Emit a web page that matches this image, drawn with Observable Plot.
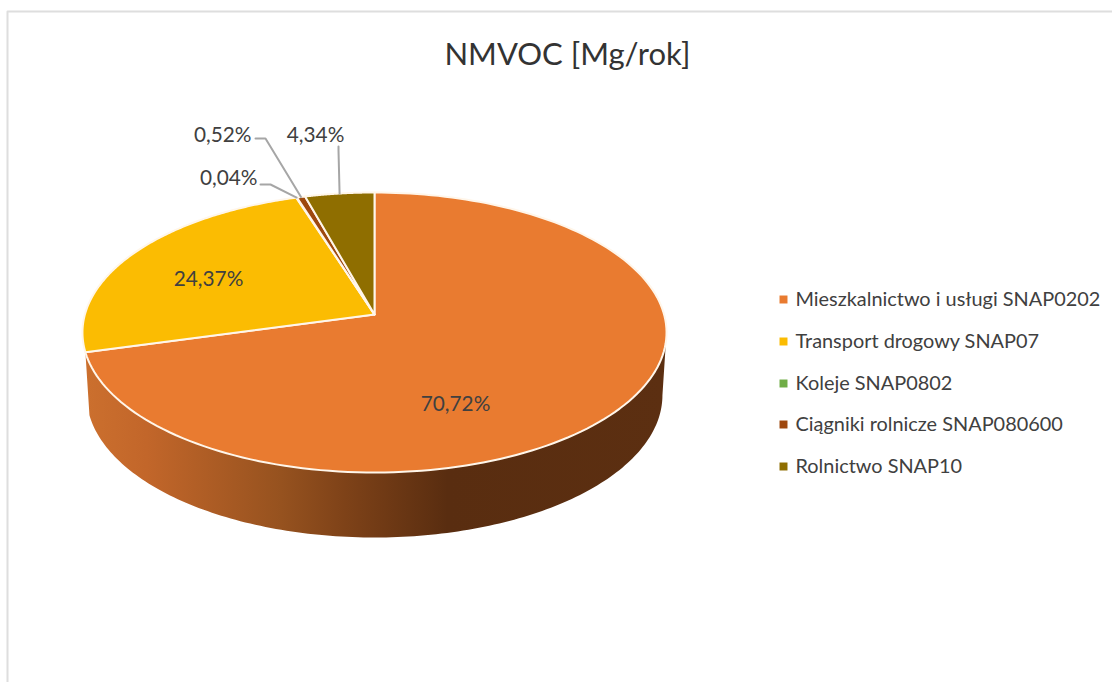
<!DOCTYPE html>
<html><head><meta charset="utf-8">
<script src="https://cdn.jsdelivr.net/npm/d3@7"></script>
<script src="https://cdn.jsdelivr.net/npm/@observablehq/plot@0.6"></script>
<style>html,body{margin:0;padding:0;background:#fff}svg{display:block}</style>
</head><body><div id="chart"></div>
<script>
const title = "NMVOC [Mg/rok]";
const categories = ["Mieszkalnictwo i usługi SNAP0202","Transport drogowy SNAP07","Koleje SNAP0802","Ciągniki rolnicze SNAP080600","Rolnictwo SNAP10"];
const shares = [70.72,24.37,0.04,0.52,4.34];
const shareLabels = ["70,72%","24,37%","0,04%","0,52%","4,34%"];
const colors = ["#E97B30","#FBBC02","#70AD47","#9E480E","#8F6E00"];
const font = "Lato, sans-serif";

// Perspective disc: maps a clockwise-from-top share angle onto the tilted disc
const hub = {x:374, y:314}, R = 289.6, A = 137.7, K = 0.1287;
const rimTop = t => { const u=Math.sin(t), v=Math.cos(t), d=1+K*v; return {x:hub.x+R*u/d, y:hub.y-A*v/d}; };
const rimLow = t => { const p=rimTop(t); return {x:hub.x+(p.x-hub.x)*0.986, y:p.y*1.0167+57.1}; };

const total = d3.sum(shares);
let acc = 0;
const slices = categories.map((c,i)=>{ const a0=acc/total*2*Math.PI; acc+=shares[i]; return {c,i,a0,a1:acc/total*2*Math.PI}; });
const arc = (a0,a1,f,n=160) => d3.range(n+1).map(k=>f(a0+(a1-a0)*k/n));

const slicePts = slices.flatMap(s=>{
  const ring=[hub,...arc(s.a0,s.a1,rimTop),hub];
  return ring.map(p=>({...p,c:s.c}));
});
// wall of the largest slice, from the right tangent of the disc to the slice's end
const wallStart = Math.acos(-K);
const wallEnd = slices[0].a1;
const wallPts = [...arc(wallStart,wallEnd,rimTop),...arc(wallEnd,wallStart,rimLow)];
wallPts.push(wallPts[0]);

// leader lines: [label end, elbow, rim at slice mid angle]
const mid = i => (slices[i].a0+slices[i].a1)/2;
const leaders = [
  {i:2, from:[260,184], elbow:[270,184]},
  {i:3, from:[255,138], elbow:[265,138]},
  {i:4, from:[338,146], elbow:[338,150]}
].flatMap(l=>{ const r=rimTop(mid(l.i)); return [{x:l.from[0],y:l.from[1],k:l.i},{x:l.elbow[0],y:l.elbow[1],k:l.i},{x:r.x,y:r.y,k:l.i}]; });

const labelPos = [[455,404,"middle"],[208,279,"middle"],[257,178,"end"],[251,135,"end"],[315,135,"middle"]];
const labels = shareLabels.map((t,i)=>({t,x:labelPos[i][0],y:labelPos[i][1],a:labelPos[i][2]}));

const legendY = [299,341,383,424,466];
const legend = categories.map((c,i)=>({c,y:legendY[i]}));

const frame = [{x:7,y:682},{x:7,y:11},{x:1112,y:11}];

const defs = () => {
  const d = d3.create("svg:defs");
  const g = d.append("linearGradient").attr("id","wallGrad").attr("gradientUnits","userSpaceOnUse")
    .attr("x1",82).attr("x2",666).attr("y1",0).attr("y2",0);
  [[0,"#CC702E"],[0.11,"#C2662A"],[0.34,"#96521F"],[0.45,"#7E4218"],[0.625,"#592D10"],[1,"#5C2F11"]].forEach(([o,c])=>
    g.append("stop").attr("offset",o).attr("stop-color",c));
  return d.node();
};

const chart = Plot.plot({
  width:1112, height:682, margin:0,
  style:{background:"#fff"},
  x:{domain:[0,1112],range:[0,1112],axis:null},
  y:{domain:[0,682],range:[0,682],axis:null},
  color:{domain:categories,range:colors},
  marks:[
    defs,
    Plot.line(frame,{x:"x",y:"y",stroke:"#DEDEDE",strokeWidth:2}),
    Plot.line(wallPts,{x:"x",y:"y",fill:"url(#wallGrad)",stroke:"none"}),
    Plot.line(slicePts,{x:"x",y:"y",z:"c",fill:"c",stroke:"#FFF6EA",strokeWidth:2,strokeLinejoin:"round"}),
    Plot.line(leaders,{x:"x",y:"y",z:"k",stroke:"#A6A6A6",strokeWidth:2}),
    Plot.text(labels.filter(d=>d.a==="middle"),{x:"x",y:"y",text:"t",textAnchor:"middle",fontSize:20.8,fontFamily:font,fill:"#404040"}),
    Plot.text(labels.filter(d=>d.a==="end"),{x:"x",y:"y",text:"t",textAnchor:"end",fontSize:20.8,fontFamily:font,fill:"#404040"}),
    Plot.dot(legend,{x:()=>783,y:"y",symbol:"square",r:4.5,fill:"c"}),
    Plot.text(legend,{x:()=>795,y:"y",text:"c",textAnchor:"start",fontSize:19.9,fontFamily:font,fill:"#404040"}),
    Plot.text([title],{x:()=>567,y:()=>55,text:d=>d,textAnchor:"middle",fontSize:31,fontFamily:font,fill:"#333"})
  ]
});
document.getElementById("chart").append(chart);
</script></body></html>
